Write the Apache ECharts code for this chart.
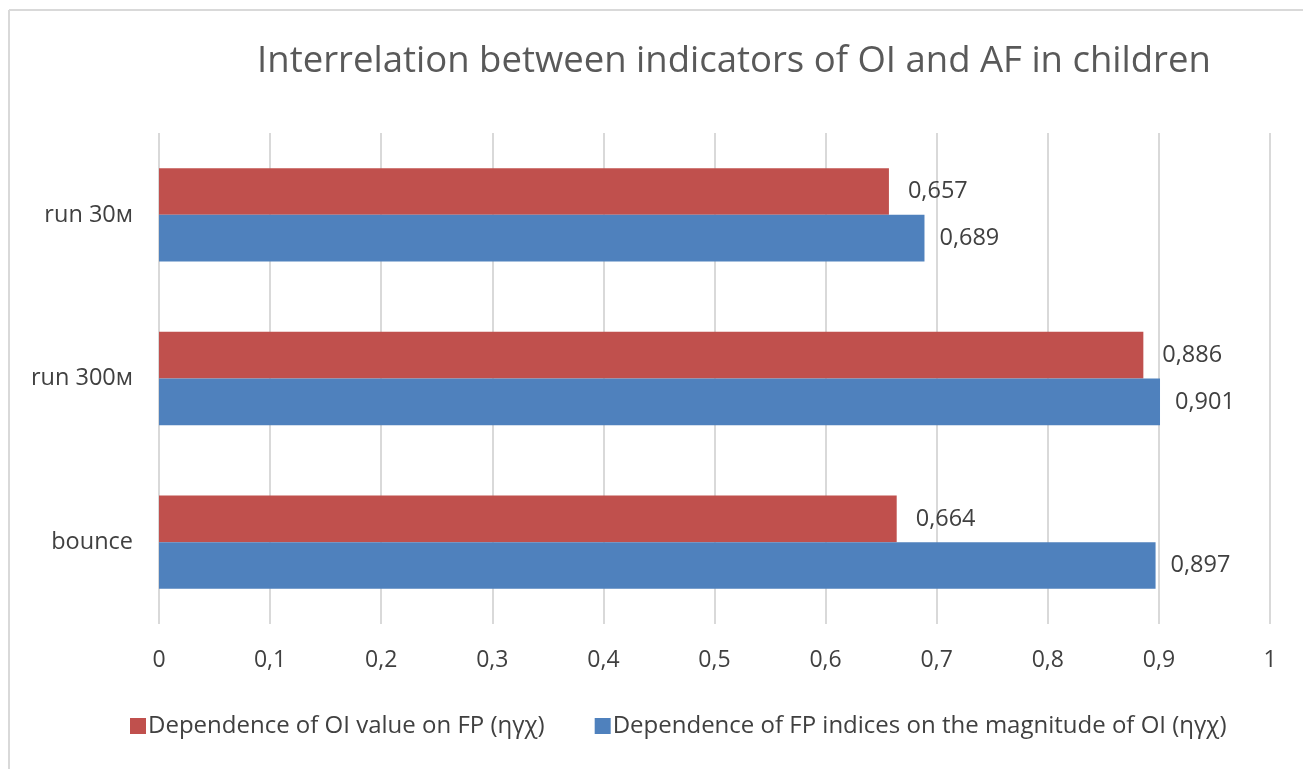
<!DOCTYPE html>
<html><head><meta charset="utf-8">
<script src="https://cdn.jsdelivr.net/npm/echarts@6/dist/echarts.min.js"></script>
<style>html,body{margin:0;padding:0;background:#fff}#c{width:1303px;height:769px}</style>
</head><body><div id="c"></div>
<script>
const categories = ['run 30м', 'run 300м', 'bounce'];
const seriesNames = ['Dependence of OI value on FP (ηγχ)', 'Dependence of FP indices on the magnitude of OI (ηγχ)'];
const redValues = [0.657, 0.886, 0.664];
const blueValues = [0.689, 0.901, 0.897];
const xTicks = [0, 0.1, 0.2, 0.3, 0.4, 0.5, 0.6, 0.7, 0.8, 0.9, 1];

const font = '"Open Sans", "Noto Sans", sans-serif';
const fmt = v => String(v).replace('.', ',');
const chart = echarts.init(document.getElementById('c'));
chart.setOption({
  animation: false,
  backgroundColor: '#fff',
  title: {
    text: 'Interrelation between indicators of OI and AF in children',
    left: 729, top: 38, textAlign: 'center',
    textStyle: { fontFamily: font, fontSize: 36.5, fontWeight: 'normal', color: '#595959' }
  },
  legend: {
    data: seriesNames,
    bottom: 26, left: 125,
    itemWidth: 16, itemHeight: 16, itemGap: 50, icon: 'rect',
    textStyle: { fontFamily: font, fontSize: 24, color: '#404040', padding: [0,0,0,-3] }
  },
  grid: { left: 159, right: 33, top: 133, bottom: 145, containLabel: false },
  xAxis: {
    type: 'value', min: xTicks[0], max: xTicks[xTicks.length-1], interval: 0.1,
    axisLine: { show: false }, axisTick: { show: false },
    splitLine: { lineStyle: { color: '#d9d9d9', width: 2 } },
    axisLabel: { fontFamily: font, fontSize: 23, color: '#404040', margin: 25, formatter: fmt }
  },
  yAxis: {
    type: 'category', data: categories, inverse: true,
    axisLine: { show: false }, axisTick: { show: false },
    axisLabel: { fontFamily: font, fontSize: 23.5, color: '#404040', margin: 26 }
  },
  series: [
    { name: seriesNames[0], type: 'bar', data: redValues, barCategoryGap: '43%', barGap: '0%',
      itemStyle: { color: '#c0504d' },
      label: { show: true, position: 'right', distance: 19, fontFamily: font, fontSize: 23.5, color: '#404040', formatter: p => fmt(p.value) } },
    { name: seriesNames[1], type: 'bar', data: blueValues, barCategoryGap: '43%', barGap: '0%',
      itemStyle: { color: '#4f81bd' },
      label: { show: true, position: 'right', distance: 15, fontFamily: font, fontSize: 23.5, color: '#404040', formatter: p => fmt(p.value) } }
  ],
  graphic: [
    { type: 'line', shape: { x1: 9, y1: 10, x2: 9, y2: 769 }, style: { stroke: '#d9d9d9', lineWidth: 2 } },
    { type: 'line', shape: { x1: 9, y1: 10, x2: 1303, y2: 10 }, style: { stroke: '#d9d9d9', lineWidth: 2 } }
  ]
});
</script></body></html>
